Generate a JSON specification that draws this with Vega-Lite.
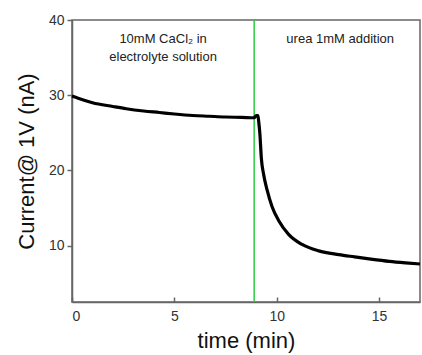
{
  "$schema": "https://vega.github.io/schema/vega-lite/v6.json",
  "width": 348,
  "height": 282,
  "autosize": {"type": "none"},
  "padding": {"left": 72, "top": 20, "right": 2, "bottom": 53},
  "background": "white",
  "config": {
    "font": "Liberation Sans",
    "view": {"stroke": "#666", "strokeWidth": 1.5}
  },
  "datasets": {
    "curve": [
      {"t": 0, "i": 29.9}, {"t": 0.3, "i": 29.6}, {"t": 1.0, "i": 29.0}, {"t": 2.0, "i": 28.5},
      {"t": 2.65, "i": 28.2}, {"t": 3.5, "i": 27.9}, {"t": 4.27, "i": 27.7}, {"t": 5.0, "i": 27.5},
      {"t": 5.9, "i": 27.3}, {"t": 6.7, "i": 27.2}, {"t": 7.5, "i": 27.1}, {"t": 8.3, "i": 27.05},
      {"t": 8.9, "i": 27.0}, {"t": 9.0, "i": 27.3}, {"t": 9.08, "i": 27.3}, {"t": 9.12, "i": 26.5},
      {"t": 9.18, "i": 24.8}, {"t": 9.25, "i": 21.6}, {"t": 9.36, "i": 19.5}, {"t": 9.53, "i": 17.4},
      {"t": 9.77, "i": 15.2}, {"t": 10.1, "i": 13.3}, {"t": 10.58, "i": 11.5}, {"t": 11.24, "i": 10.15},
      {"t": 12.05, "i": 9.3}, {"t": 13.03, "i": 8.8}, {"t": 13.8, "i": 8.5}, {"t": 14.6, "i": 8.2},
      {"t": 15.5, "i": 7.9}, {"t": 16.3, "i": 7.7}, {"t": 17.0, "i": 7.55}
    ],
    "marker": [{"t": 8.9}],
    "notes": [
      {"t": 4.45, "i": 37.5, "label": "10mM CaCl₂ in"},
      {"t": 4.45, "i": 35.1, "label": "electrolyte solution"},
      {"t": 13.1, "i": 37.5, "label": "urea 1mM addition"}
    ]
  },
  "layer": [
    {
      "data": {"name": "marker"},
      "mark": {"type": "rule", "color": "#2ecc40", "strokeWidth": 1.5},
      "encoding": {
        "x": {
          "field": "t", "type": "quantitative",
          "scale": {"domain": [0, 17], "nice": false},
          "axis": {
            "title": "time (min)", "titleFontSize": 22, "titleFontWeight": "normal", "titleColor": "#111",
            "titlePadding": 7,
            "values": [0, 5, 10, 15], "labelFontSize": 14, "labelColor": "#333",
            "tickSize": -5, "tickColor": "#666", "tickWidth": 1.5, "labelPadding": 12,
            "domainColor": "#666", "domainWidth": 1.5, "grid": false
          }
        }
      }
    },
    {
      "data": {"name": "curve"},
      "mark": {"type": "line", "color": "black", "strokeWidth": 3.2, "interpolate": "monotone"},
      "encoding": {
        "x": {"field": "t", "type": "quantitative"},
        "y": {
          "field": "i", "type": "quantitative",
          "scale": {"domain": [2.5, 40], "nice": false, "zero": false},
          "axis": {
            "title": "Current@ 1V (nA)", "titleFontSize": 22, "titleFontWeight": "normal", "titleColor": "#111",
            "titlePadding": 10,
            "values": [10, 20, 30, 40], "labelFontSize": 14, "labelColor": "#333",
            "tickSize": 5, "tickColor": "#666", "tickWidth": 1.5, "labelPadding": 3,
            "domainColor": "#666", "domainWidth": 1.5, "grid": false
          }
        }
      }
    },
    {
      "data": {"name": "notes"},
      "mark": {"type": "text", "fontSize": 13, "color": "#222", "align": "center", "baseline": "middle"},
      "encoding": {
        "x": {"field": "t", "type": "quantitative"},
        "y": {"field": "i", "type": "quantitative"},
        "text": {"field": "label"}
      }
    }
  ]
}
